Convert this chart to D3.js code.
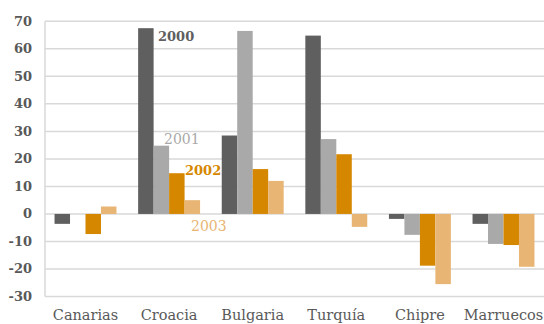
<!DOCTYPE html>
<html><head><meta charset="utf-8">
<script src="https://cdn.jsdelivr.net/npm/d3@7"></script>
<style>body{margin:0;background:#fff}svg{display:block}</style>
</head><body>
<svg id="c" width="544" height="324"></svg>
<script>
const categories = ["Canarias","Croacia","Bulgaria","Turquía","Chipre","Marruecos"];
const seriesNames = ["2000","2001","2002","2003"];
const s2000 = [-3.6, 67.5, 28.5, 64.8, -1.8, -3.6];
const s2001 = [0, 24.8, 66.5, 27.2, -7.6, -10.9];
const s2002 = [-7.3, 14.8, 16.3, 21.7, -18.8, -11.3];
const s2003 = [2.7, 5.0, 12.0, -4.7, -25.5, -19.2];
const yTicks = [70,60,50,40,30,20,10,0,-10,-20,-30];
const colors = ["#5f5f5f","#a9a9a9","#d68700","#e8b574"];
const seriesData = [s2000,s2001,s2002,s2003];

(function(){
const svg = d3.select("#c");
const mLeft = 45, mRight = 544, mTop = 21.3, mBottom = 296.5;
const x = d3.scaleBand().domain(categories).range([43.7,545.3]).paddingInner(0).paddingOuter(0);
const xs = d3.scaleBand().domain(seriesNames).range([0,x.bandwidth()]).paddingInner(0).paddingOuter(0.7);
const y = d3.scaleLinear().domain([-30,70]).range([mBottom,mTop]);

svg.append("g").selectAll("line").data(yTicks).join("line")
  .attr("x1",mLeft).attr("x2",mRight)
  .attr("y1",d=>y(d)).attr("y2",d=>y(d))
  .attr("stroke","#d9d9d9").attr("stroke-width",1.5);
svg.append("line").attr("x1",mLeft).attr("x2",mLeft).attr("y1",mTop).attr("y2",mBottom)
  .attr("stroke","#d9d9d9").attr("stroke-width",1.5);

svg.append("g").selectAll("text").data(yTicks).join("text")
  .attr("x",32).attr("y",d=>y(d)+4.5).attr("text-anchor","end")
  .attr("font-family","DejaVu Serif").attr("font-size",13).attr("font-weight","bold")
  .attr("fill","#595959").text(d=>d);

seriesData.forEach((arr,si)=>{
  svg.append("g").selectAll("rect").data(arr).join("rect")
    .attr("x",(d,i)=>x(categories[i])+xs(seriesNames[si]))
    .attr("width",xs.bandwidth())
    .attr("y",d=>y(Math.max(0,d)))
    .attr("height",d=>Math.abs(y(d)-y(0)))
    .attr("fill",colors[si]);
});

svg.append("g").selectAll("text").data(categories).join("text")
  .attr("x",d=>x(d)+x.bandwidth()/2).attr("y",320)
  .attr("text-anchor","middle")
  .attr("font-family","DejaVu Serif").attr("font-size",14.5)
  .attr("fill","#595959").text(d=>d);

const labelPos = [
  {x:158,y:41,w:"bold",s:13},
  {x:164,y:144,w:"normal",s:14},
  {x:185,y:175,w:"bold",s:13},
  {x:191,y:231,w:"normal",s:14}
];
seriesNames.forEach((n,i)=>{
  svg.append("text").attr("x",labelPos[i].x).attr("y",labelPos[i].y)
    .attr("font-family","DejaVu Serif").attr("font-size",labelPos[i].s)
    .attr("font-weight",labelPos[i].w).attr("fill",colors[i]).text(n);
});
})();
</script>
</body></html>
